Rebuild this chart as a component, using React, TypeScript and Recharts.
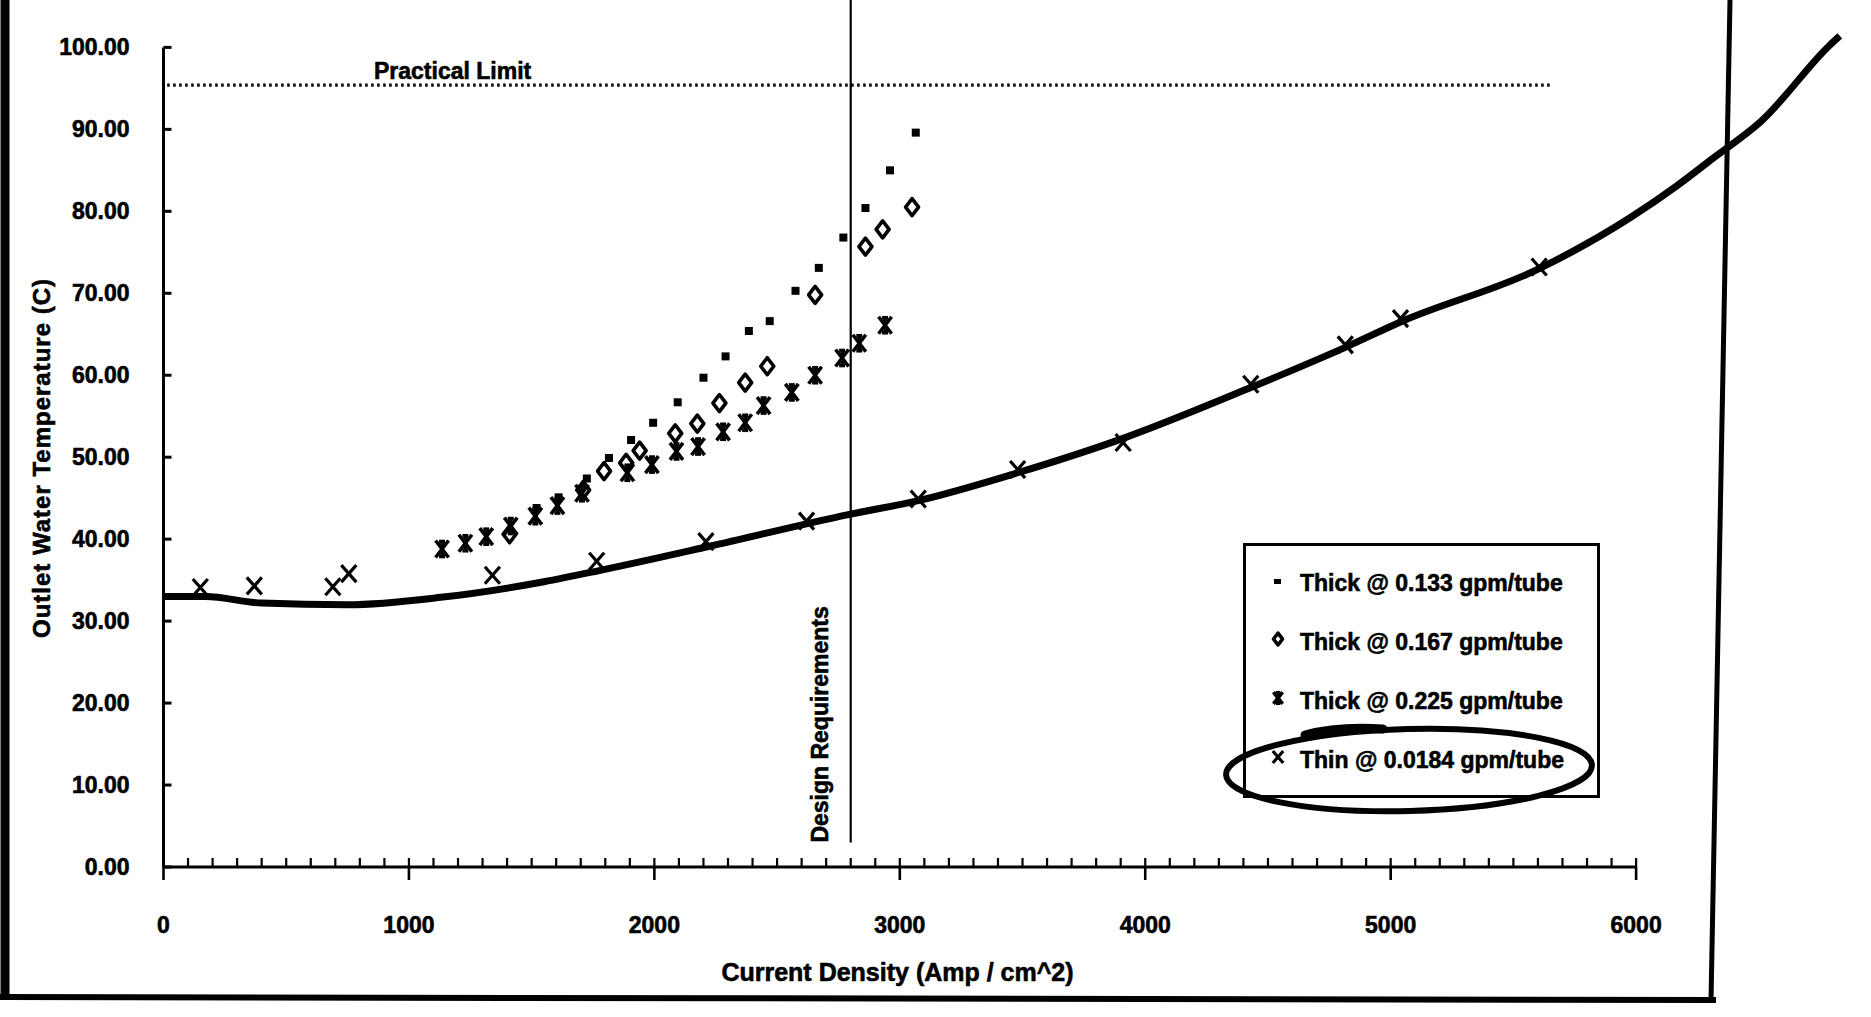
import React from 'react';
import {
  ComposedChart,
  XAxis,
  YAxis,
  Line,
  Scatter,
  ReferenceLine,
  ReferenceDot,
  Legend,
} from 'recharts';

const FONT = '"Liberation Sans", Arial, Helvetica, sans-serif';
const TEXT_STROKE = 0.6;

// ---------- data ----------
const seriesNames = [
  'Thick @ 0.133 gpm/tube',
  'Thick @ 0.167 gpm/tube',
  'Thick @ 0.225 gpm/tube',
  'Thin @ 0.0184 gpm/tube',
];

const thick133X = [1520, 1610, 1725, 1815, 1905, 1995, 2095, 2200, 2290, 2385, 2470, 2575, 2670, 2770, 2860, 2960, 3065];
const thick133Y = [43.8, 45.1, 47.4, 49.9, 52.1, 54.2, 56.7, 59.7, 62.3, 65.4, 66.6, 70.3, 73.1, 76.8, 80.4, 85.0, 89.6];

const thick167X = [1410, 1710, 1795, 1885, 1940, 2085, 2175, 2265, 2370, 2460, 2655, 2860, 2930, 3050];
const thick167Y = [40.6, 46.0, 48.3, 49.3, 50.8, 52.9, 54.1, 56.6, 59.1, 61.1, 69.8, 75.7, 77.8, 80.5];

const thick225X = [1135, 1230, 1315, 1415, 1515, 1605, 1705, 1890, 1990, 2090, 2178, 2280, 2370, 2445, 2560, 2655, 2765, 2835, 2940];
const thick225Y = [38.8, 39.5, 40.3, 41.6, 42.8, 44.1, 45.6, 48.1, 49.1, 50.7, 51.3, 53.1, 54.2, 56.3, 57.9, 60.0, 62.1, 63.9, 66.1];

const thinX = [150, 370, 690, 755, 1340, 1765, 2210, 2620, 3075, 3480, 3910, 4430, 4815, 5040, 5605];
const thinY = [34.1, 34.3, 34.2, 35.8, 35.6, 37.3, 39.7, 42.2, 44.9, 48.5, 51.8, 58.9, 63.7, 66.9, 73.2];

const trendX = [0, 170, 400, 750, 1130, 1550, 1780, 2220, 2790, 3075, 3480, 3910, 4430, 4815, 5040, 5605, 5980, 6170, 6310, 6510, 6790, 6830];
const trendY = [33.0, 33.0, 32.2, 32.0, 32.9, 34.8, 36.2, 39.1, 43.0, 44.7, 48.1, 52.3, 58.5, 63.4, 66.5, 73.0, 79.3, 83.2, 86.4, 91.0, 100.3, 101.4];

const xLabelTicks = [0, 1000, 2000, 3000, 4000, 5000, 6000];
const xAllTicks = Array.from({ length: 61 }, (_, i) => i * 100);
const yTicks = [0, 10, 20, 30, 40, 50, 60, 70, 80, 90, 100];

const practicalLimit = 95.4;
const practicalStart = 15;
const practicalEnd = 5656;
const designX = 2800;

const zip = (xs: number[], ys: number[]) => xs.map((x, i) => ({ x, y: ys[i] }));
const thick133 = zip(thick133X, thick133Y);
const thick167 = zip(thick167X, thick167Y);
const thick225 = zip(thick225X, thick225Y);
const thin = zip(thinX, thinY);
const trend = zip(trendX, trendY);

// ---------- markers ----------
const SquareMark = ({ cx, cy, s = 1 }: any) => (
  <rect x={cx - 4 * s} y={cy - 4 * s} width={8 * s} height={8 * s} fill="#000" />
);
const DiamondMark = ({ cx, cy, s = 1 }: any) => (
  <polygon
    points={`${cx},${cy - 8.5 * s} ${cx + 6.5 * s},${cy} ${cx},${cy + 8.5 * s} ${cx - 6.5 * s},${cy}`}
    fill="#fff"
    stroke="#000"
    strokeWidth={3.6}
    strokeLinejoin="round"
  />
);
const StarMark = ({ cx, cy, s = 1 }: any) => (
  <g stroke="#000" strokeWidth={3.6}>
    <line x1={cx - 6.5 * s} y1={cy - 8.5 * s} x2={cx + 6.5 * s} y2={cy + 8.5 * s} />
    <line x1={cx + 6.5 * s} y1={cy - 8.5 * s} x2={cx - 6.5 * s} y2={cy + 8.5 * s} />
    <line x1={cx} y1={cy - 8.5 * s} x2={cx} y2={cy + 8.5 * s} />
    <line x1={cx - 3 * s} y1={cy - 7.5 * s} x2={cx + 3 * s} y2={cy - 7.5 * s} />
    <line x1={cx - 3 * s} y1={cy + 7.5 * s} x2={cx + 3 * s} y2={cy + 7.5 * s} />
  </g>
);
const XMark = ({ cx, cy, s = 1 }: any) => (
  <g stroke="#000" strokeWidth={3.2}>
    <line x1={cx - 7.5 * s} y1={cy - 8.5 * s} x2={cx + 7.5 * s} y2={cy + 8.5 * s} />
    <line x1={cx + 7.5 * s} y1={cy - 8.5 * s} x2={cx - 7.5 * s} y2={cy + 8.5 * s} />
  </g>
);

const textProps = {
  fontFamily: FONT,
  fontWeight: 700,
  fill: '#000',
  stroke: '#000',
  strokeWidth: TEXT_STROKE,
};

// ---------- axis ticks ----------
const XTick = (props: any) => {
  const { x, y, payload } = props;
  const v = payload.value;
  const major = xLabelTicks.includes(v);
  return (
    <g>
      <line x1={x} x2={x} y1={y} y2={y - 9} stroke="#000" strokeWidth={2.2} />
      {major && <line x1={x} x2={x} y1={y} y2={y + 13} stroke="#000" strokeWidth={2.6} />}
      {major && (
        <text x={x} y={y + 66} textAnchor="middle" fontSize={23} {...textProps}>
          {v}
        </text>
      )}
    </g>
  );
};

const YTick = (props: any) => {
  const { x, y, payload } = props;
  return (
    <g>
      <line x1={x} x2={x + 8} y1={y} y2={y} stroke="#000" strokeWidth={3} />
      <text x={x - 34} y={y + 8} textAnchor="end" fontSize={23} {...textProps}>
        {Number(payload.value).toFixed(2)}
      </text>
    </g>
  );
};

const XTitle = (props: any) => {
  const vb = props.viewBox || { x: 0, y: 0 };
  return (
    <text x={vb.x + 734} y={vb.y + 114} textAnchor="middle" fontSize={25} {...textProps}>
      Current Density (Amp / cm^2)
    </text>
  );
};

const YTitle = () => (
  <text
    x={42}
    y={458}
    transform="rotate(-90 42 458)"
    textAnchor="middle"
    dy="0.35em"
    fontSize={24}
    letterSpacing={1}
    {...textProps}
  >
    Outlet Water Temperature (C)
  </text>
);

const DesignLabel = (props: any) => {
  const vb = props.viewBox || { x: 0, y: 0, width: 0, height: 0 };
  const cx = vb.x + (vb.width || 0) / 2 - 31;
  const cy = vb.y + (vb.height || 0) / 2;
  return (
    <text
      x={cx}
      y={cy}
      transform={`rotate(-90 ${cx} ${cy})`}
      textAnchor="middle"
      dy="0.35em"
      fontSize={23}
      {...textProps}
    >
      Design Requirements
    </text>
  );
};

const PracticalLabel = (props: any) => {
  const vb = props.viewBox || { x: 0, y: 0, width: 0, height: 0 };
  const cx = vb.x + (vb.width || 0) / 2;
  const cy = vb.y + (vb.height || 0) / 2;
  return (
    <text x={cx} y={cy - 6} textAnchor="middle" fontSize={23} {...textProps}>
      Practical Limit
    </text>
  );
};

// ---------- legend ----------
const legendRows = [40, 99, 158, 217];
const legendMarks = [SquareMark, DiamondMark, StarMark, XMark];

const LegendBox = () => (
  <div style={{ position: 'relative', width: 357, height: 256 }}>
    <svg width={357} height={256} style={{ position: 'absolute', left: 0, top: 0, overflow: 'visible' }}>
      <rect x={1.5} y={1.5} width={354} height={252} fill="#fff" stroke="#000" strokeWidth={3} />
      {seriesNames.map((name, i) => {
        const M = legendMarks[i];
        return (
          <g key={name}>
            {i === 0 ? (
              <rect x={31} y={legendRows[i] - 4} width={7} height={5} fill="#000" />
            ) : (
              <M cx={35} cy={legendRows[i] - 3} s={0.7} />
            )}
            <text x={57} y={legendRows[i] + 8} fontSize={23} {...textProps}>
              {name}
            </text>
          </g>
        );
      })}
      <ellipse
        cx={166}
        cy={227}
        rx={183}
        ry={41}
        transform="rotate(-1.5 166 227)"
        fill="none"
        stroke="#000"
        strokeWidth={6}
      />
      <path d="M 62 192 Q 95 183 140 186" fill="none" stroke="#000" strokeWidth={9} strokeLinecap="round" />
    </svg>
  </div>
);

export default function App() {
  return (
    <div style={{ position: 'absolute', left: 0, top: 0, width: 1871, height: 1017, background: '#fff' }}>
      <div style={{ position: 'absolute', left: 0, top: 0 }}>
        <ComposedChart
          width={1871}
          height={1017}
          margin={{ top: 31, right: 14, bottom: 70, left: 0 }}
          style={{ fontFamily: FONT }}
        >
          <XAxis
            dataKey="x"
            type="number"
            domain={[0, 6900]}
            allowDataOverflow
            ticks={xAllTicks}
            interval={0}
            tick={<XTick />}
            tickLine={false}
            axisLine={false}
            tickSize={0}
            tickMargin={0}
            height={80}
            label={<XTitle />}
          />
          <YAxis
            dataKey="y"
            type="number"
            domain={[0, 102]}
            allowDataOverflow
            ticks={yTicks}
            interval={0}
            tick={<YTick />}
            tickLine={false}
            axisLine={false}
            tickSize={0}
            tickMargin={0}
            width={163.5}
            label={<YTitle />}
          />
          <ReferenceLine
            segment={[{ x: 0, y: 0 }, { x: 6000, y: 0 }]}
            stroke="#000"
            strokeWidth={3}
            ifOverflow="visible"
          />
          <ReferenceLine
            segment={[{ x: 0, y: 0 }, { x: 0, y: 100 }]}
            stroke="#000"
            strokeWidth={3}
            ifOverflow="visible"
          />
          <ReferenceLine
            segment={[{ x: practicalStart, y: practicalLimit }, { x: practicalEnd, y: practicalLimit }]}
            stroke="#000"
            strokeWidth={3.4}
            strokeDasharray="2.5 3.5"
            ifOverflow="visible"
          />
          <ReferenceLine
            segment={[{ x: designX, y: 3 }, { x: designX, y: 107 }]}
            stroke="#000"
            strokeWidth={2.2}
            ifOverflow="visible"
          />
          <ReferenceDot x={designX} y={17.4} r={0} fill="none" stroke="none" label={DesignLabel} />
          <ReferenceDot x={1178} y={practicalLimit} r={0} fill="none" stroke="none" label={PracticalLabel} />
          <Line
            data={trend}
            dataKey="y"
            type="monotone"
            stroke="#000"
            strokeWidth={7}
            dot={false}
            activeDot={false}
            legendType="none"
            isAnimationActive={false}
          />
          <Scatter
            name={seriesNames[0]}
            data={thick133}
            dataKey="y"
            shape={(p: any) => <SquareMark cx={p.cx} cy={p.cy} />}
            isAnimationActive={false}
          />
          <Scatter
            name={seriesNames[1]}
            data={thick167}
            dataKey="y"
            shape={(p: any) => <DiamondMark cx={p.cx} cy={p.cy} />}
            isAnimationActive={false}
          />
          <Scatter
            name={seriesNames[2]}
            data={thick225}
            dataKey="y"
            shape={(p: any) => <StarMark cx={p.cx} cy={p.cy} />}
            isAnimationActive={false}
          />
          <Scatter
            name={seriesNames[3]}
            data={thin}
            dataKey="y"
            shape={(p: any) => <XMark cx={p.cx} cy={p.cy} />}
            isAnimationActive={false}
          />
          <Legend
            layout="horizontal"
            verticalAlign="middle"
            align="center"
            content={<LegendBox />}
            wrapperStyle={{ left: 1243, top: 543, width: 357, height: 256 }}
          />
        </ComposedChart>
      </div>
      {/* scanned page frame drawn as an SVG overlay */}
      <svg
        width={1871}
        height={1017}
        style={{ position: 'absolute', left: 0, top: 0, pointerEvents: 'none', zIndex: 10 }}
      >
        <line x1={5} y1={0} x2={5} y2={998} stroke="#000" strokeWidth={9} />
        <line x1={0} y1={997} x2={1716} y2={1000} stroke="#000" strokeWidth={6} />
        <line x1={1730} y1={0} x2={1711} y2={1001} stroke="#000" strokeWidth={5} />
      </svg>
    </div>
  );
}
